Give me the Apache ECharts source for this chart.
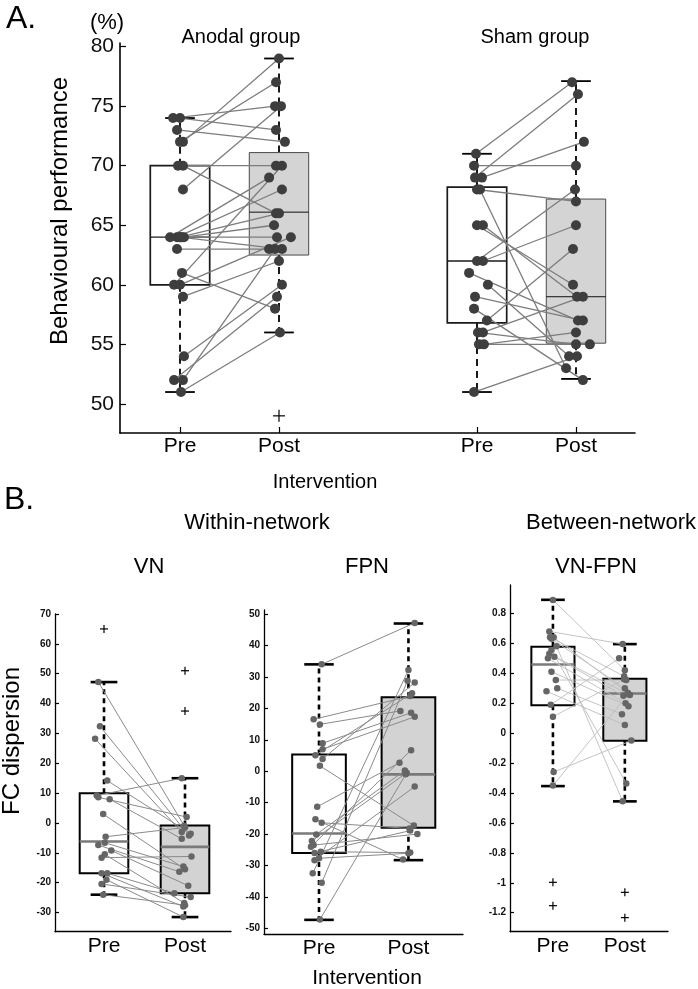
<!DOCTYPE html>
<html>
<head>
<meta charset="utf-8">
<script src="https://cdn.jsdelivr.net/npm/echarts@6/dist/echarts.min.js"></script>
<style>
html, body { margin: 0; padding: 0; background: #fff; }
#chart { width: 698px; height: 989px; }
</style>
</head>
<body>
<div id="chart"></div>
<script>
const phases = ['Pre', 'Post']

// A. behavioural performance (%), one entry per subject (pre -> post)
const anodalPre = [74, 74, 73, 72, 72, 70, 70, 68, 64, 64, 64, 64, 64, 63, 61, 60, 60, 59, 64, 54, 52, 52, 51]
const anodalPost = [75, 73, 72, 79, 77, 70, 66, 75, 69, 68, 66, 65, 64, 63, 58, 70, 64, 62, 63, 60, 59, 63, 56]
const anodalPreJitter = [-0.07, 0, -0.03, 0.03, 0, -0.02, 0.03, 0.03, -0.1, -0.03, 0, 0.04, 0.02, -0.03, 0.02, -0.06, 0, 0.03, 0, 0.04, -0.06, 0.03, 0.01]
const anodalPostJitter = [-0.04, -0.03, 0.06, 0, -0.03, -0.03, -0.03, 0.02, -0.1, 0.03, 0, -0.05, -0.02, -0.1, -0.04, 0.03, 0.12, 0, 0.03, 0.03, -0.02, -0.04, 0.01]
const anodalBoxPre = [51, 60, 64, 70, 74]
const anodalBoxPost = [56, 62.5, 66.1, 71.1, 79]
const anodalOutPost = [49]

const shamPre = [71, 70, 69, 69, 68, 65, 65, 62, 62, 61, 60, 59, 58, 57, 56, 56, 55, 55, 51, 68]
const shamPost = [77, 70, 76, 72, 67, 60, 59, 68, 65, 57, 54, 57, 52, 63, 55, 59, 55, 56, 54, 53]
const shamPreJitter = [-0.01, -0.03, -0.02, 0.05, 0, 0, 0.06, 0, 0.06, -0.08, 0.11, -0.02, -0.03, 0.1, 0.01, 0.06, 0.02, 0.07, -0.03, 0.03]
const shamPostJitter = [-0.04, 0, 0.02, 0.08, 0, -0.03, 0.01, -0.01, 0, 0.02, -0.07, 0.07, 0.07, -0.03, 0, 0.07, 0.14, 0, 0.01, -0.1]
const shamBoxPre = [51, 56.8, 62, 68.2, 71]
const shamBoxPost = [52.1, 55.1, 59, 67.2, 77.1]

const behavTicks = [50, 55, 60, 65, 70, 75, 80]

// B. FC dispersion
const vnPre = [47.2, 32.4, 28.2, 14.2, 9.2, 8.6, 8, 3, -4.6, -6.6, -7.4, -9.2, -10.5, -11.6, -16.8, -16.8, -19, -20.4, -24]
const vnPost = [-0.9, -4.2, -3, -3.6, 15, 2, -5.3, -15.5, -1.5, -14.6, -16.3, -21, -26.8, -11.2, -28, -23.5, -31.5, -24.8, -27.5]
const vnPreJitter = [-0.07, -0.05, -0.11, 0.04, -0.09, -0.07, 0.07, -0.01, 0.02, 0.01, -0.07, 0.09, 0.01, -0.03, -0.03, 0.04, 0.03, -0.03, -0.01]
const vnPostJitter = [-0.01, 0.05, -0.04, 0.07, -0.04, 0.02, -0.04, 0, 0, -0.02, -0.07, 0.04, -0.01, 0.08, -0.02, -0.13, -0.02, 0.07, 0]
const vnBoxPre = [-24, -16.8, -6.2, 10, 47.2]
const vnBoxPost = [-31.5, -23.5, -8, -0.8, 15]
const vnOutPre = [65]
const vnOutPost = [51, 37.5]
const vnTicks = [-30, -20, -10, 0, 10, 20, 30, 40, 50, 60, 70]

const fpnPre = [34, 16.5, 14.9, 8.9, 7, 5.1, 3.9, 1.7, -11.3, -15.3, -16.4, -20.1, -22.2, -23.5, -24, -25.6, -26, -27.7, -28.3, -32.5, -35.5, -47.2]
const fpnPost = [47.2, 23.9, 19.2, 18.6, 17.3, 24.8, 28.2, -17.3, 2.7, -28.1, -18.2, 0.2, -0.5, -20, 6.7, -25.9, -18.9, -26.1, -4.9, 32.2, 28.8, -1]
const fpnPreJitter = [0.03, -0.06, 0.01, 0.04, 0.04, -0.04, 0.04, 0.01, -0.02, -0.04, 0.03, -0.03, -0.08, -0.06, -0.09, 0.02, -0.05, 0, -0.05, -0.07, 0.03, 0.01]
const fpnPostJitter = [0.07, 0.02, -0.09, 0.03, 0.07, 0.04, 0.07, 0.06, -0.1, -0.06, 0.01, -0.04, -0.02, 0.1, 0.03, 0.02, 0.02, 0, 0.07, 0, -0.01, -0.03]
const fpnBoxPre = [-47.3, -26, -19.8, 5.3, 34]
const fpnBoxPost = [-28.3, -18, -1, 23.5, 47]
const fpnTicks = [-50, -40, -30, -20, -10, 0, 10, 20, 30, 40, 50]

const vfPre = [0.89, 0.68, 0.64, 0.64, 0.63, 0.58, 0.555, 0.53, 0.51, 0.5, 0.41, 0.355, 0.3, 0.28, 0.19, 0.11, -0.26, -0.35]
const vfPost = [0.42, 0.595, 0.38, 0.27, 0.3, -0.456, -0.336, 0.255, 0.25, 0.2, 0.18, 0.355, 0.127, 0.054, 0.5, 0.36, -0.05, 0.26]
const vfPreJitter = [0, -0.05, -0.04, 0.01, -0.02, 0.05, -0.02, -0.05, 0.02, -0.07, -0.02, 0.04, 0.06, -0.09, -0.03, 0, 0.01, 0]
const vfPostJitter = [0, -0.03, -0.01, 0.04, 0, -0.03, 0.02, 0.07, -0.02, 0.01, 0.05, 0.02, -0.04, 0, -0.08, -0.01, 0.09, 0.05]
const vfBoxPre = [-0.354, 0.187, 0.459, 0.577, 0.891]
const vfBoxPost = [-0.456, -0.051, 0.265, 0.363, 0.595]
const vfOutPre = [-0.997, -1.153]
const vfOutPost = [-1.064, -1.233]
const vfTicks = [-1.2, -1, -0.8, -0.6, -0.4, -0.2, 0, 0.2, 0.4, 0.6, 0.8]

const FONT = "'Liberation Sans', Arial, Helvetica, sans-serif"

// ---------- renderers ----------
function renderPair(color, width) {
    return function (params, api) {
        const a = api.coord([api.value(0), api.value(1)])
        const b = api.coord([api.value(2), api.value(3)])
        return {
            type: 'line',
            shape: { x1: a[0], y1: a[1], x2: b[0], y2: b[1] },
            style: { stroke: color, lineWidth: width }
        }
    }
}

function renderBox(st) {
    return function (params, api) {
        const x = api.value(0)
        const p = (i) => api.coord([x, api.value(i)])
        const lo = p(1), q1 = p(2), md = p(3), q3 = p(4), hi = p(5)
        const cx = lo[0]
        const hw = api.size([st.boxW, 0])[0] / 2
        const cw = api.size([st.capW, 0])[0] / 2
        const dash = { stroke: '#000', lineWidth: st.whiskerW, lineDash: st.dash }
        const cap = { stroke: '#000', lineWidth: st.capLW }
        return {
            type: 'group',
            children: [
                { type: 'line', shape: { x1: cx, y1: q3[1], x2: cx, y2: hi[1] }, style: dash },
                { type: 'line', shape: { x1: cx, y1: q1[1], x2: cx, y2: lo[1] }, style: dash },
                {
                    type: 'rect',
                    shape: { x: cx - hw, y: q3[1], width: 2 * hw, height: q1[1] - q3[1] },
                    style: { fill: st.fill, stroke: st.stroke, lineWidth: st.strokeW }
                },
                { type: 'line', shape: { x1: cx - hw, y1: md[1], x2: cx + hw, y2: md[1] }, style: { stroke: st.median, lineWidth: st.medianW } },
                { type: 'line', shape: { x1: cx - cw, y1: hi[1], x2: cx + cw, y2: hi[1] }, style: cap },
                { type: 'line', shape: { x1: cx - cw, y1: lo[1], x2: cx + cw, y2: lo[1] }, style: cap }
            ]
        }
    }
}

function renderPlus(size, lw) {
    return function (params, api) {
        const c = api.coord([api.value(0), api.value(1)])
        const h = size / 2
        const s = { stroke: '#000', lineWidth: lw }
        return {
            type: 'group',
            children: [
                { type: 'line', shape: { x1: c[0] - h, y1: c[1], x2: c[0] + h, y2: c[1] }, style: s },
                { type: 'line', shape: { x1: c[0], y1: c[1] - h, x2: c[0], y2: c[1] + h }, style: s }
            ]
        }
    }
}

// ---------- styles ----------
const lookA = {
    line: '#7c7c7c', lineW: 1.3, dot: '#3e3e3e', dotSize: 10, plus: 12,
    pre: { boxW: 0.6, capW: 0.3, fill: '#fff', stroke: '#1a1a1a', strokeW: 1.7, median: '#1a1a1a', medianW: 1.4, whiskerW: 1.8, dash: [7, 5], capLW: 1.8 },
    post: { boxW: 0.6, capW: 0.3, fill: '#d4d4d4', stroke: '#4a4a4a', strokeW: 1, median: '#111', medianW: 1, whiskerW: 1.8, dash: [7, 5], capLW: 1.8 }
}
const boxB = { boxW: 0.6, capW: 0.33, fill: '#fff', stroke: '#000', strokeW: 2, median: '#7a7a7a', medianW: 2.6, whiskerW: 2.6, dash: [5, 4], capLW: 2.6 }
const lookB = {
    line: '#8a8a8a', lineW: 1, dot: '#666', dotSize: 6.5, plus: 8,
    pre: boxB,
    post: Object.assign({}, boxB, { fill: '#d3d3d3' })
}
const lookVF = Object.assign({}, lookB, { line: '#bdbdbd', lineW: 0.9 })

// ---------- series builder ----------
function groupSeries(gi, g, look) {
    const pairs = g.pre.map((v, i) => [g.xPre + g.preJ[i], v, g.xPost + g.postJ[i], g.post[i]])
    const pts = g.pre.map((v, i) => [g.xPre + g.preJ[i], v])
        .concat(g.post.map((v, i) => [g.xPost + g.postJ[i], v]))
    const outs = (g.outPre || []).map((v) => [g.xPre, v])
        .concat((g.outPost || []).map((v) => [g.xPost, v]))
    const list = [
        {
            type: 'custom', xAxisIndex: gi, yAxisIndex: gi, z: 1, silent: true,
            renderItem: renderBox(look.pre), encode: { x: 0, y: [1, 2, 3, 4, 5] },
            data: [[g.xPre].concat(g.boxPre)]
        },
        {
            type: 'custom', xAxisIndex: gi, yAxisIndex: gi, z: 1, silent: true,
            renderItem: renderBox(look.post), encode: { x: 0, y: [1, 2, 3, 4, 5] },
            data: [[g.xPost].concat(g.boxPost)]
        },
        {
            type: 'custom', xAxisIndex: gi, yAxisIndex: gi, z: 2, silent: true,
            renderItem: renderPair(look.line, look.lineW), encode: { x: [0, 2], y: [1, 3] },
            data: pairs
        },
        {
            type: 'scatter', xAxisIndex: gi, yAxisIndex: gi, z: 3, silent: true,
            symbolSize: look.dotSize, itemStyle: { color: look.dot, opacity: 1 },
            data: pts
        }
    ]
    if (outs.length) {
        list.push({
            type: 'custom', xAxisIndex: gi, yAxisIndex: gi, z: 3, silent: true,
            renderItem: renderPlus(look.plus, 1.2), encode: { x: 0, y: 1 },
            data: outs
        })
    }
    return list
}

const labelAt = { 1: phases[0], 2: phases[1], 4: phases[0], 5: phases[1] }

function xAxisFor(gi, min, max, ticks, big) {
    return {
        type: 'value', gridIndex: gi, min: min, max: max,
        splitLine: { show: false },
        axisLine: { show: true, onZero: false, lineStyle: { color: '#000', width: big ? 1.6 : 1.3 } },
        axisTick: { show: big, inside: true, length: 6, customValues: ticks, lineStyle: { color: '#000', width: 1.2 } },
        axisLabel: {
            customValues: ticks, margin: big ? 3 : 4,
            formatter: (v) => labelAt[v],
            color: '#000', fontSize: 21, fontFamily: FONT
        }
    }
}

function yAxisFor(gi, min, max, ticks, big) {
    return {
        type: 'value', gridIndex: gi, min: min, max: max,
        splitLine: { show: false },
        axisLine: { show: true, onZero: false, lineStyle: { color: '#000', width: big ? 1.6 : 1.3 } },
        axisTick: { show: true, inside: true, length: big ? 6 : 4, customValues: ticks, lineStyle: { color: '#000', width: 1.2 } },
        axisLabel: {
            customValues: ticks, margin: big ? 6 : 4,
            color: '#111', fontSize: big ? 21 : 10, fontWeight: big ? 'normal' : 'bold', fontFamily: FONT
        }
    }
}

function txt(text, x, y, size, extra) {
    return Object.assign({
        type: 'text', x: x, y: y, silent: true,
        style: { text: text, fontSize: size, fontFamily: FONT, fill: '#000', align: 'center', verticalAlign: 'middle' }
    }, extra || {})
}

const chart = echarts.init(document.getElementById('chart'))

const series = []
    .concat(groupSeries(0, { pre: anodalPre, post: anodalPost, preJ: anodalPreJitter, postJ: anodalPostJitter, boxPre: anodalBoxPre, boxPost: anodalBoxPost, outPost: anodalOutPost, xPre: 1, xPost: 2 }, lookA))
    .concat(groupSeries(0, { pre: shamPre, post: shamPost, preJ: shamPreJitter, postJ: shamPostJitter, boxPre: shamBoxPre, boxPost: shamBoxPost, xPre: 4, xPost: 5 }, lookA))
    .concat(groupSeries(1, { pre: vnPre, post: vnPost, preJ: vnPreJitter, postJ: vnPostJitter, boxPre: vnBoxPre, boxPost: vnBoxPost, outPre: vnOutPre, outPost: vnOutPost, xPre: 1, xPost: 2 }, lookB))
    .concat(groupSeries(2, { pre: fpnPre, post: fpnPost, preJ: fpnPreJitter, postJ: fpnPostJitter, boxPre: fpnBoxPre, boxPost: fpnBoxPost, xPre: 1, xPost: 2 }, lookB))
    .concat(groupSeries(3, { pre: vfPre, post: vfPost, preJ: vfPreJitter, postJ: vfPostJitter, boxPre: vfBoxPre, boxPost: vfBoxPost, outPre: vfOutPre, outPost: vfOutPost, xPre: 1, xPost: 2 }, lookVF))

const option = {
    animation: false,
    textStyle: { fontFamily: FONT },
    grid: [
        { left: 120, top: 43, width: 515, height: 390 },
        { left: 55, top: 614, width: 176, height: 317.7 },
        { left: 264, top: 610, width: 199, height: 324 },
        { left: 510, top: 585, width: 158, height: 346.7 }
    ],
    xAxis: [
        xAxisFor(0, 0.394, 5.596, [1, 2, 4, 5], true),
        xAxisFor(1, 0.395, 2.568, [1, 2], false),
        xAxisFor(2, 0.385, 2.61, [1, 2], false),
        xAxisFor(3, 0.403, 2.6, [1, 2], false)
    ],
    yAxis: [
        yAxisFor(0, 47.56, 80.3, behavTicks, true),
        yAxisFor(1, -36.4, 70, vnTicks, false),
        yAxisFor(2, -51.8, 51.3, fpnTicks, false),
        yAxisFor(3, -1.327, 0.99, vfTicks, false)
    ],
    graphic: [
        txt('A.', 6, 19, 32, { style: { text: 'A.', fontSize: 32, fontFamily: FONT, fill: '#000', align: 'left', verticalAlign: 'middle' } }),
        txt('(%)', 107, 23, 22),
        txt('Anodal group', 241, 37, 20),
        txt('Sham group', 535, 37, 20),
        txt('Behavioural performance', 60, 211, 24, { rotation: Math.PI / 2 }),
        txt('Intervention', 325, 482, 20),
        txt('B.', 4, 500, 32, { style: { text: 'B.', fontSize: 32, fontFamily: FONT, fill: '#000', align: 'left', verticalAlign: 'middle' } }),
        txt('Within-network', 257, 523, 22),
        txt('Between-network', 611, 523, 22),
        txt('VN', 149, 567, 22),
        txt('FPN', 367, 567, 22),
        txt('VN-FPN', 596, 567, 22),
        txt('FC dispersion', 12, 741, 24, { rotation: Math.PI / 2 }),
        txt('Intervention', 367, 978, 21)
    ],
    series: series
}

chart.setOption(option)
</script>
</body>
</html>
